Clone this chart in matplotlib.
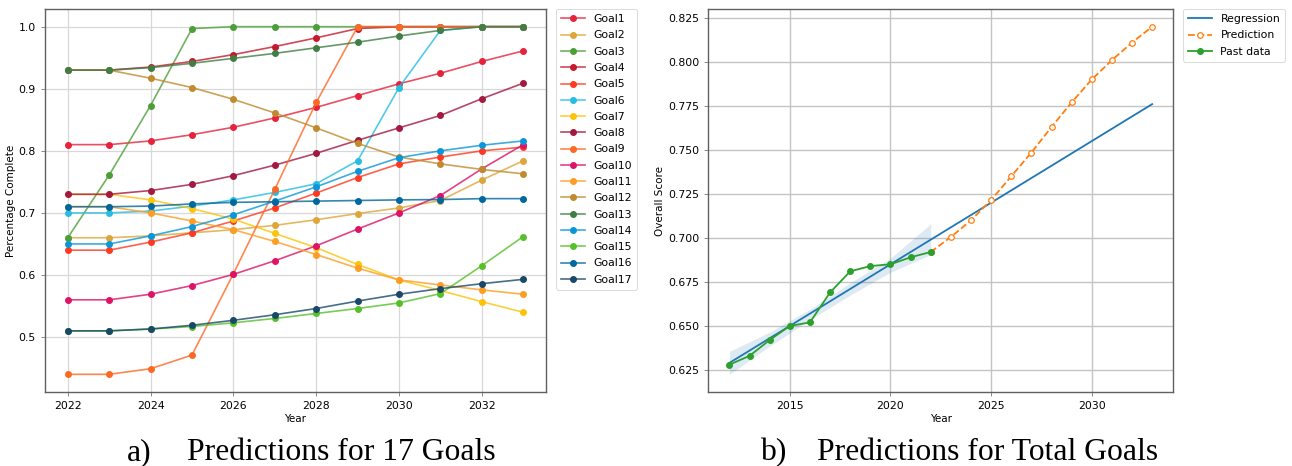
import numpy as np
import matplotlib
matplotlib.use("Agg")
import matplotlib.pyplot as plt
from matplotlib.colors import to_rgba

# ---- data: panel a (17 goals) ----
years_a = [2022, 2023, 2024, 2025, 2026, 2027, 2028, 2029, 2030, 2031, 2032, 2033]

goal_names = ["Goal%d" % i for i in range(1, 18)]

goal_colors = ["#e5243b", "#dda63a", "#4c9f38", "#c5192d", "#ff3a21", "#26bde2",
               "#fcc30b", "#a21942", "#fd6925", "#dd1367", "#fd9d24", "#bf8b2e",
               "#3f7e44", "#0a97d9", "#56c02b", "#00689d", "#19486a"]

goal1 = [0.81, 0.81, 0.816, 0.826, 0.838, 0.853, 0.870, 0.889, 0.908, 0.925, 0.944, 0.961]
goal2 = [0.66, 0.66, 0.663, 0.668, 0.673, 0.680, 0.689, 0.699, 0.708, 0.720, 0.753, 0.784]
goal3 = [0.66, 0.761, 0.873, 0.997, 1.0, 1.0, 1.0, 1.0, 1.0, 1.0, 1.0, 1.0]
goal4 = [0.93, 0.93, 0.935, 0.944, 0.955, 0.968, 0.982, 0.997, 1.0, 1.0, 1.0, 1.0]
goal5 = [0.64, 0.64, 0.653, 0.668, 0.687, 0.708, 0.732, 0.757, 0.779, 0.790, 0.800, 0.806]
goal6 = [0.70, 0.70, 0.703, 0.711, 0.721, 0.733, 0.747, 0.784, 0.902, 0.994, 1.0, 1.0]
goal7 = [0.73, 0.73, 0.721, 0.707, 0.690, 0.667, 0.644, 0.617, 0.592, 0.575, 0.557, 0.540]
goal8 = [0.73, 0.73, 0.736, 0.746, 0.760, 0.777, 0.796, 0.817, 0.837, 0.857, 0.884, 0.909]
goal9 = [0.44, 0.44, 0.449, 0.471, 0.602, 0.738, 0.878, 1.0, 1.0, 1.0, 1.0, 1.0]
goal10 = [0.56, 0.56, 0.569, 0.583, 0.601, 0.623, 0.647, 0.674, 0.700, 0.728, 0.771, 0.810]
goal11 = [0.71, 0.71, 0.700, 0.687, 0.673, 0.654, 0.633, 0.611, 0.592, 0.584, 0.576, 0.569]
goal12 = [0.93, 0.93, 0.917, 0.902, 0.883, 0.861, 0.837, 0.812, 0.790, 0.779, 0.770, 0.763]
goal13 = [0.93, 0.93, 0.934, 0.941, 0.949, 0.957, 0.966, 0.975, 0.985, 0.994, 1.0, 1.0]
goal14 = [0.65, 0.65, 0.663, 0.678, 0.697, 0.719, 0.742, 0.767, 0.789, 0.800, 0.809, 0.816]
goal15 = [0.51, 0.51, 0.513, 0.517, 0.523, 0.530, 0.538, 0.546, 0.555, 0.570, 0.615, 0.662]
goal16 = [0.71, 0.71, 0.711, 0.7145, 0.717, 0.718, 0.719, 0.720, 0.721, 0.7215, 0.723, 0.723]
goal17 = [0.51, 0.51, 0.513, 0.519, 0.527, 0.536, 0.546, 0.558, 0.569, 0.578, 0.586, 0.593]

goal_values = [goal1, goal2, goal3, goal4, goal5, goal6, goal7, goal8, goal9,
               goal10, goal11, goal12, goal13, goal14, goal15, goal16, goal17]

# ---- data: panel b (total score) ----
past_years = [2012, 2013, 2014, 2015, 2016, 2017, 2018, 2019, 2020, 2021, 2022]
past_score = [0.628, 0.633, 0.642, 0.650, 0.652, 0.669, 0.681, 0.684, 0.685, 0.689, 0.692]

pred_years = [2022, 2023, 2024, 2025, 2026, 2027, 2028, 2029, 2030, 2031, 2032, 2033]
pred_score = [0.692, 0.7005, 0.710, 0.7215, 0.735, 0.7485, 0.763, 0.777, 0.790, 0.801, 0.811, 0.820]

reg_years = [2012, 2033]
reg_score = [0.629, 0.776]

band_years = [2012, 2014, 2016, 2018, 2020, 2022]
band_low = [0.6225, 0.6385, 0.6535, 0.6675, 0.6805, 0.6905]
band_high = [0.6355, 0.6465, 0.6595, 0.6745, 0.6885, 0.7080]

fs = 7.8
plt.rcParams['font.family'] = 'DejaVu Sans'

fig = plt.figure( figsize=( 12.92, 4.66 ), dpi=100 )
W, H = 1292.0, 466.0

def px_axes( x0, x1, y0, y1 ):
    return fig.add_axes( [x0/W, 1 - y1/H, (x1 - x0)/W, (y1 - y0)/H] )

ax1 = px_axes( 45, 546, 9.3, 391.7 )
ax2 = px_axes( 708.3, 1173.3, 9.3, 391.7 )

for ax in [ax1, ax2]:
    for sp in ax.spines.values():
        sp.set_color( '#606060' )
        sp.set_linewidth( 1.0 )
    ax.tick_params( labelsize=fs, length=3, width=0.6, color='#777777' )

# panel a
for i, name in enumerate( goal_names ):
    c = goal_colors[i]
    ax1.plot( years_a, goal_values[i], color=to_rgba( c, 0.8 ), lw=1.2,
              marker='o', ms=4, mfc=c, mec=c, label=name )

ax1.grid( True, color='#d8d8d8', lw=0.9 )
ax1.set_axisbelow( True )
ax1.set_xticks( [2022, 2024, 2026, 2028, 2030, 2032] )
ax1.set_yticks( [0.5, 0.6, 0.7, 0.8, 0.9, 1.0] )
ax1.set_xlabel( "Year", fontsize=fs - 0.3, labelpad=2 )
ax1.set_ylabel( "Percentage Complete", fontsize=fs - 0.3, labelpad=2 )
leg1 = ax1.legend( loc='upper left', bbox_to_anchor=( 1.02, 1.0 ), borderaxespad=0,
                   fontsize=fs, handlelength=2.2, labelspacing=0.58, borderpad=0.45 )
leg1.get_frame().set_linewidth( 0.6 )

# panel b
ax2.fill_between( band_years, band_low, band_high, color='#1f77b4', alpha=0.15, lw=0 )
ax2.plot( reg_years, reg_score, color='#1f77b4', lw=1.3, label="Regression" )
ax2.plot( pred_years, pred_score, color='#ff7f0e', ls='--', lw=1.3, marker='o', ms=4,
          mfc='white', mec='#ff7f0e', mew=0.9, label="Prediction" )
ax2.plot( past_years, past_score, color='#2ca02c', lw=1.3, marker='o', ms=4,
          label="Past data" )

ax2.grid( True, color='#c4c4c4', lw=1.0 )
ax2.set_axisbelow( True )
ax2.set_xticks( [2015, 2020, 2025, 2030] )
ax2.set_yticks( [0.625, 0.650, 0.675, 0.700, 0.725, 0.750, 0.775, 0.800, 0.825] )
ax2.set_xlabel( "Year", fontsize=fs - 0.3, labelpad=2 )
ax2.set_ylabel( "Overall Score", fontsize=fs - 0.3, labelpad=2 )
leg2 = ax2.legend( loc='upper left', bbox_to_anchor=( 1.021, 1.0 ), borderaxespad=0,
                   fontsize=fs, handlelength=2.2, labelspacing=0.58, borderpad=0.45 )
leg2.get_frame().set_linewidth( 0.6 )

# captions
cap = dict( fontsize=22.8, family='Liberation Serif', va='baseline', ha='left' )
fig.text( 127/W, 1 - 460/H, "a)", **cap )
fig.text( 187/W, 1 - 460/H, "Predictions for 17 Goals", **cap )
fig.text( 761/W, 1 - 460/H, "b)", **cap )
fig.text( 817/W, 1 - 460/H, "Predictions for Total Goals", **cap )

fig.savefig( "out.png", dpi=100 )
